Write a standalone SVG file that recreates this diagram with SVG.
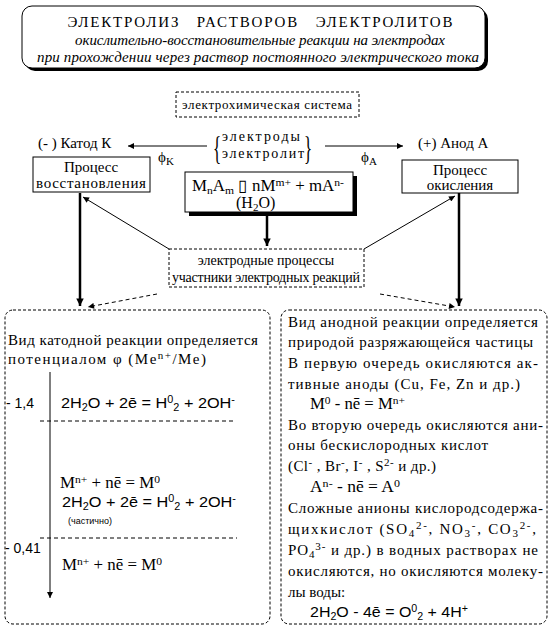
<svg xmlns="http://www.w3.org/2000/svg" width="552" height="632" viewBox="0 0 552 632">
<style>
.s{font-family:"Liberation Serif",serif;font-size:15px;fill:#000}
.a{font-family:"Liberation Sans",sans-serif;font-size:15px;fill:#000}
.i{font-family:"Liberation Serif",serif;font-size:15px;font-style:italic;fill:#000}
.m{font-family:"Liberation Serif",serif;font-size:16px;fill:#000}
.box{fill:#fff;stroke:#000;stroke-width:1}
.dash{fill:#fff;stroke:#000;stroke-width:1;stroke-dasharray:3,2}
.dot{fill:none;stroke:#000;stroke-width:1;stroke-dasharray:3,2}
.ln{stroke:#000;stroke-width:1;fill:none}
.thick{stroke:#000;stroke-width:2.5;fill:none}
.dl{stroke:#000;stroke-width:1;fill:none;stroke-dasharray:4,3}
</style>
<defs>
<marker id="ah" viewBox="0 0 10 10" refX="10" refY="5" markerWidth="10" markerHeight="6" markerUnits="userSpaceOnUse" orient="auto">
<path d="M0,0 L10,5 L0,10 z" fill="#000"/>
</marker>
<marker id="ahT" viewBox="0 0 10 10" refX="10" refY="5" markerWidth="4" markerHeight="3" orient="auto">
<path d="M0,0 L10,5 L0,10 z" fill="#000"/>
</marker>
</defs>

<g id="title">
<rect x="25" y="9" width="463" height="62" rx="10" fill="#000"/>
<rect x="22" y="6" width="463" height="62" rx="10" class="box"/>
<text x="260" y="27" text-anchor="middle" class="s" textLength="385" xml:space="preserve">ЭЛЕКТРОЛИЗ   РАСТВОРОВ   ЭЛЕКТРОЛИТОВ</text>
<text x="260" y="45" text-anchor="middle" class="i" textLength="370">окислительно-восстановительные реакции на электродах</text>
<text x="258" y="62" text-anchor="middle" class="i" textLength="442">при прохождении через раствор постоянного электрического тока</text>
</g>

<g id="system">
<rect x="176" y="92" width="183" height="25" class="dash"/>
<text x="267" y="109" text-anchor="middle" class="s" style="font-size:13px" textLength="170">электрохимическая система</text>
</g>

<g id="cathode">
<text x="38" y="148" class="s">(- ) Катод К</text>
</g>
<g id="anode">
<text x="418" y="148" class="s">(+) Анод А</text>
</g>

<g id="brace">
<text x="222" y="141" class="s" style="font-size:14px" textLength="78">электроды</text>
<text x="222" y="158" class="s" style="font-size:14px" textLength="82">электролит</text>
<text x="213" y="159" class="s" style="font-size:34px" transform="translate(213,159) scale(0.5,1) translate(-213,-159)">{</text>
<text x="304" y="159" class="s" style="font-size:34px" transform="translate(304,159) scale(0.5,1) translate(-304,-159)">}</text>
</g>

<g id="reduction">
<rect x="33" y="157" width="117" height="35" class="box"/>
<text x="91" y="172" text-anchor="middle" class="s">Процесс</text>
<text x="91" y="188" text-anchor="middle" class="s" textLength="110">восстановления</text>
</g>

<g id="oxidation">
<rect x="402" y="160" width="116" height="33" class="box"/>
<text x="460" y="175" text-anchor="middle" class="s">Процесс</text>
<text x="460" y="190" text-anchor="middle" class="s">окисления</text>
</g>

<g id="formula">
<rect x="189" y="176" width="168" height="40" fill="#000"/>
<rect x="185" y="172" width="168" height="40" class="box"/>
<text x="192" y="191" class="m" textLength="152" lengthAdjust="spacingAndGlyphs">M<tspan font-size="11" baseline-shift="-3">n</tspan>A<tspan font-size="11" baseline-shift="-3">m</tspan> ▯  nM<tspan font-size="11" baseline-shift="5">m+</tspan> + mA<tspan font-size="11" baseline-shift="5">n-</tspan></text>
<text x="236" y="208" class="m">(H<tspan font-size="11" baseline-shift="-3">2</tspan>O)</text>
</g>

<g id="processes">
<rect x="169" y="249" width="195" height="38" class="dash"/>
<text x="266" y="265" text-anchor="middle" class="s" style="font-size:14px">электродные процессы</text>
<text x="266" y="282" text-anchor="middle" class="s" style="font-size:14px" textLength="188">участники электродных реакций</text>
</g>

<g id="cathode-panel">
<rect x="5" y="310" width="265" height="314" rx="8" class="dot"/>
<text x="8" y="345" class="s" textLength="250">Вид катодной реакции определяется</text>
<text x="8" y="364" class="s" textLength="198">потенциалом φ (Me<tspan font-size="11" baseline-shift="5">n+</tspan>/Me)</text>
<text x="6" y="408" class="a" style="font-size:14px">- 1,4</text>
<text x="61" y="408" class="a" textLength="174" lengthAdjust="spacingAndGlyphs">2H<tspan font-size="10" baseline-shift="-3">2</tspan>O + 2ē = H<tspan font-size="10" baseline-shift="5">0</tspan><tspan font-size="10" baseline-shift="-3">2</tspan> + 2OH<tspan font-size="10" baseline-shift="5">-</tspan></text>
<line x1="40" y1="421" x2="235" y2="421" class="dl"/>
<text x="60" y="488" class="m" textLength="100" lengthAdjust="spacingAndGlyphs">M<tspan font-size="11" baseline-shift="5">n+</tspan> + nē = M<tspan font-size="11" baseline-shift="5">0</tspan></text>
<text x="62" y="507" class="a" textLength="174" lengthAdjust="spacingAndGlyphs">2H<tspan font-size="10" baseline-shift="-3">2</tspan>O + 2ē = H<tspan font-size="10" baseline-shift="5">0</tspan><tspan font-size="10" baseline-shift="-3">2</tspan> + 2OH<tspan font-size="10" baseline-shift="5">-</tspan></text>
<text x="68" y="524" class="a" style="font-size:9px">(частично)</text>
<line x1="40" y1="538" x2="237" y2="538" class="dl"/>
<text x="5" y="553" class="a" style="font-size:14px">- 0,41</text>
<text x="62" y="570" class="m" textLength="100" lengthAdjust="spacingAndGlyphs">M<tspan font-size="11" baseline-shift="5">n+</tspan> + nē = M<tspan font-size="11" baseline-shift="5">0</tspan></text>
</g>

<g id="anode-panel">
<rect x="281" y="310" width="266" height="314" rx="8" class="dot"/>
<text x="288" y="327" class="s" textLength="250">Вид анодной реакции определяется</text>
<text x="288" y="347" class="s" textLength="245">природой разряжающейся частицы</text>
<text x="288" y="368" class="s" textLength="250">В первую очередь окисляются ак-</text>
<text x="288" y="389" class="s" textLength="232">тивные аноды (Cu, Fe, Zn и др.)</text>
<text x="310" y="409" class="m" textLength="95" lengthAdjust="spacingAndGlyphs">M<tspan font-size="11" baseline-shift="5">0</tspan> -  nē = M<tspan font-size="11" baseline-shift="5">n+</tspan></text>
<text x="288" y="430" class="s" textLength="255">Во вторую очередь окисляются ани-</text>
<text x="288" y="450" class="s" textLength="200">оны бескислородных кислот</text>
<text x="288" y="471" class="s" textLength="148">(Cl<tspan font-size="11" baseline-shift="5">-</tspan> , Br<tspan font-size="11" baseline-shift="5">-</tspan>, I<tspan font-size="11" baseline-shift="5">-</tspan> , S<tspan font-size="11" baseline-shift="5">2-</tspan>  и др.)</text>
<text x="310" y="492" class="m" textLength="90" lengthAdjust="spacingAndGlyphs">A<tspan font-size="11" baseline-shift="5">n-</tspan>  -  nē = A<tspan font-size="11" baseline-shift="5">0</tspan></text>
<text x="288" y="513" class="s" textLength="255">Сложные анионы кислородсодержа-</text>
<text x="288" y="534" class="s" textLength="248">щихкислот (SO<tspan font-size="11" baseline-shift="-3">4</tspan><tspan font-size="11" baseline-shift="5">2-</tspan>, NO<tspan font-size="11" baseline-shift="-3">3</tspan><tspan font-size="11" baseline-shift="5">-</tspan>, CO<tspan font-size="11" baseline-shift="-3">3</tspan><tspan font-size="11" baseline-shift="5">2-</tspan>,</text>
<text x="288" y="555" class="s" textLength="250">PO<tspan font-size="11" baseline-shift="-3">4</tspan><tspan font-size="11" baseline-shift="5">3-</tspan>  и  др.) в водных растворах не</text>
<text x="288" y="576" class="s" textLength="255">окисляются, но окисляются молеку-</text>
<text x="288" y="597" class="s">лы воды:</text>
<text x="310" y="617" class="a" textLength="158" lengthAdjust="spacingAndGlyphs">2H<tspan font-size="10" baseline-shift="-3">2</tspan>O -  4ē = O<tspan font-size="10" baseline-shift="5">0</tspan><tspan font-size="10" baseline-shift="-3">2</tspan> + 4H<tspan font-size="10" baseline-shift="5">+</tspan></text>
</g>

<g id="connectors">
<line x1="207" y1="146" x2="128" y2="146" class="ln" marker-end="url(#ah)"/>
<text x="158" y="162" class="s">ϕ<tspan font-size="11" baseline-shift="-3">K</tspan></text>
<line x1="325" y1="146" x2="403" y2="146" class="ln" marker-end="url(#ah)"/>
<text x="361" y="162" class="s">ϕ<tspan font-size="11" baseline-shift="-3">A</tspan></text>
<line x1="267" y1="216" x2="267" y2="246" class="thick" marker-end="url(#ahT)"/>
<line x1="169" y1="249" x2="83" y2="197" class="ln" marker-end="url(#ah)"/>
<line x1="364" y1="249" x2="455" y2="196" class="ln" marker-end="url(#ah)"/>
<line x1="80" y1="193" x2="80" y2="306" class="thick" marker-end="url(#ahT)"/>
<line x1="459" y1="193" x2="459" y2="306" class="thick" marker-end="url(#ahT)"/>
<line x1="157" y1="294" x2="88" y2="307" class="dl" marker-end="url(#ah)"/>
<line x1="380" y1="294" x2="455" y2="307" class="dl" marker-end="url(#ah)"/>
<line x1="50" y1="372" x2="50" y2="598" class="ln" stroke-width="1.5" marker-end="url(#ah)"/>
</g>
</svg>
